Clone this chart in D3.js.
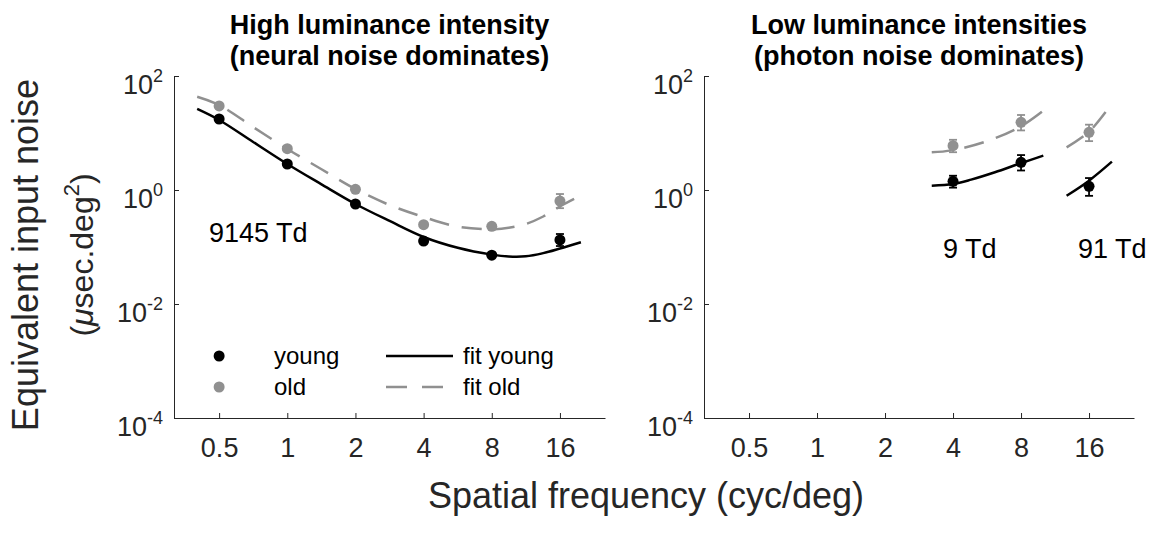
<!DOCTYPE html>
<html>
<head>
<meta charset="utf-8">
<script src="https://cdn.jsdelivr.net/npm/d3@7"></script>
<style>
  body { margin: 0; background: #fff; }
  text { font-family: "Liberation Sans", Arial, Helvetica, sans-serif; }
</style>
</head>
<body>
<svg id="chart" width="1154" height="539"></svg>
<script>
// ---- data ----
var freqs = [0.5, 1, 2, 4, 8, 16];
var xTicks = [0.5, 1, 2, 4, 8, 16];
var yTicks = [1e-4, 1e-2, 1, 1e2];

// high luminance (9145 Td)
var highYoung = [17.6, 2.86, 0.568, 0.127, 0.072, 0.133];
var highYoungLo = [16.6, 2.75, 0.55, 0.116, 0.068, 0.104];
var highYoungHi = [18.7, 2.97, 0.59, 0.139, 0.076, 0.169];
var highOld = [29.8, 5.3, 1.03, 0.246, 0.231, 0.64];
var highOldLo = [28.4, 5.1, 0.99, 0.234, 0.221, 0.48];
var highOldHi = [31.2, 5.5, 1.07, 0.258, 0.241, 0.85];

// fits, high luminance
var fitHighF = [0.40, 0.5, 0.707, 1, 1.41, 2, 2.83, 4, 5.66, 8, 9.5, 11.3, 13.5, 16, 19.8];
var fitHighYoung = [26.4, 16.9, 6.95, 2.86, 1.27, 0.568, 0.286, 0.150, 0.097, 0.0735, 0.068, 0.0685, 0.078, 0.094, 0.121];
var fitHighOld = [43.3, 31.0, 12.7, 5.24, 2.34, 1.04, 0.545, 0.336, 0.227, 0.205, 0.217, 0.253, 0.343, 0.514, 0.801];

// low luminance, 9 Td
var low9F = [4, 8];
var low9Young = [1.42, 3.06];
var low9YoungLo = [1.10, 2.2];
var low9YoungHi = [1.78, 4.1];
var low9Old = [6.0, 15.4];
var low9OldLo = [4.6, 11.1];
var low9OldHi = [7.6, 20.7];
var fit9YoungF = [3.22, 4, 4.81, 6.13, 8.03, 10.04];
var fit9Young = [1.19, 1.27, 1.52, 2.05, 2.98, 4.0];
var fit9OldF = [3.22, 4, 5.72, 8, 10.04];
var fit9Old = [4.58, 5.0, 7.3, 13.1, 24.6];

// low luminance, 91 Td
var low91F = [16];
var low91Young = [1.16];
var low91YoungLo = [0.79];
var low91YoungHi = [1.62];
var low91Old = [10.3];
var low91OldLo = [7.2];
var low91OldHi = [14.0];
var fit91F = [12.73, 16, 20.2];
var fit91Young = [0.794, 1.46, 3.14];
var fit91Old = [5.61, 10.5, 33];

var BLACK = "#000000", GRAY = "#909090", AXIS = "#262626";
var DASH = "20,13";

var svg = d3.select("#chart");
svg.append("rect").attr("width", 1154).attr("height", 539).attr("fill", "#fff");

var plotTop = 76, plotBottom = 418;
var panels = [
    {left: 174, right: 605, title: ["High luminance intensity", "(neural noise dominates)"]},
    {left: 704, right: 1134, title: ["Low luminance intensities", "(photon noise dominates)"]}
];

var y = d3.scaleLog().domain([1e-4, 1e2]).range([plotBottom, plotTop]);

function zip(f, v) {
    return f.map(function (d, i) { return {f: d, v: v[i]}; });
}

panels.forEach(function (p) {
    p.x = d3.scaleLog().domain([0.316, 25.3]).range([p.left, p.right]);
    var g = svg.append("g");
    p.g = g;

    // x axis
    var xa = g.append("g")
        .attr("transform", "translate(0," + plotBottom + ")")
        .call(d3.axisBottom(p.x).tickValues(xTicks).tickSizeInner(-5).tickSizeOuter(0)
            .tickFormat(function (d) { return d; }));
    xa.select(".domain").attr("stroke", AXIS);
    xa.selectAll(".tick line").attr("stroke", AXIS);
    xa.selectAll(".tick text")
        .attr("y", 39).attr("dy", null)
        .attr("fill", AXIS)
        .style("font-size", "27px");

    // y axis
    var ya = g.append("g")
        .attr("transform", "translate(" + p.left + ",0)")
        .call(d3.axisLeft(y).tickValues(yTicks).tickSizeInner(-5).tickSizeOuter(0).tickFormat(""));
    ya.select(".domain").attr("stroke", AXIS);
    ya.selectAll(".tick line").attr("stroke", AXIS);
    ya.selectAll(".tick").each(function (d) {
        var t = d3.select(this).append("text")
            .attr("x", -11).attr("y", 17)
            .attr("text-anchor", "end")
            .attr("fill", AXIS)
            .style("font-size", "27px")
            .text("10");
        t.append("tspan").attr("dy", -12).style("font-size", "18px")
            .text(Math.round(Math.log10(d)));
    });

    // title
    p.title.forEach(function (s, i) {
        g.append("text")
            .attr("x", (p.left + p.right) / 2)
            .attr("y", 34 + i * 31)
            .attr("text-anchor", "middle")
            .style("font-size", "27px")
            .style("font-weight", "bold")
            .text(s);
    });
});

var line = d3.line().curve(d3.curveCatmullRom.alpha(0.5));

function drawFit(p, f, v, color, dashed) {
    p.g.append("path")
        .attr("d", line(zip(f, v).map(function (d) { return [p.x(d.f), y(d.v)]; })))
        .attr("fill", "none")
        .attr("stroke", color)
        .attr("stroke-width", 2.5)
        .attr("stroke-dasharray", dashed ? DASH : null);
}

function drawPoints(p, f, v, lo, hi, color) {
    var data = f.map(function (d, i) { return {f: d, v: v[i], lo: lo[i], hi: hi[i]}; });
    var gg = p.g.append("g");
    gg.selectAll(".err").data(data).enter().append("line")
        .attr("x1", function (d) { return p.x(d.f); })
        .attr("x2", function (d) { return p.x(d.f); })
        .attr("y1", function (d) { return y(d.lo); })
        .attr("y2", function (d) { return y(d.hi); })
        .attr("stroke", color).attr("stroke-width", 1.8);
    [ "lo", "hi" ].forEach(function (k) {
        gg.selectAll(".cap" + k).data(data).enter().append("line")
            .attr("x1", function (d) { return p.x(d.f) - 4; })
            .attr("x2", function (d) { return p.x(d.f) + 4; })
            .attr("y1", function (d) { return y(d[k]); })
            .attr("y2", function (d) { return y(d[k]); })
            .attr("stroke", color).attr("stroke-width", 1.8);
    });
    gg.selectAll("circle").data(data).enter().append("circle")
        .attr("cx", function (d) { return p.x(d.f); })
        .attr("cy", function (d) { return y(d.v); })
        .attr("r", 5.5)
        .attr("fill", color);
}

var L = panels[0], R = panels[1];

// left panel
drawFit(L, fitHighF, fitHighOld, GRAY, true);
drawFit(L, fitHighF, fitHighYoung, BLACK, false);
drawPoints(L, freqs, highOld, highOldLo, highOldHi, GRAY);
drawPoints(L, freqs, highYoung, highYoungLo, highYoungHi, BLACK);

// right panel
drawFit(R, fit9OldF, fit9Old, GRAY, true);
drawFit(R, fit9YoungF, fit9Young, BLACK, false);
drawFit(R, fit91F, fit91Old, GRAY, true);
drawFit(R, fit91F, fit91Young, BLACK, false);
drawPoints(R, low9F, low9Old, low9OldLo, low9OldHi, GRAY);
drawPoints(R, low9F, low9Young, low9YoungLo, low9YoungHi, BLACK);
drawPoints(R, low91F, low91Old, low91OldLo, low91OldHi, GRAY);
drawPoints(R, low91F, low91Young, low91YoungLo, low91YoungHi, BLACK);

// luminance labels
L.g.append("text").attr("x", 209).attr("y", 242).style("font-size", "27px").text("9145 Td");
R.g.append("text").attr("x", 943).attr("y", 258).style("font-size", "27px").text("9 Td");
R.g.append("text").attr("x", 1078).attr("y", 258).style("font-size", "27px").text("91 Td");

// legend
var legend = [
    {label: "young", fit: "fit young", color: BLACK, dashed: false, y: 356},
    {label: "old", fit: "fit old", color: GRAY, dashed: true, y: 387}
];
legend.forEach(function (d) {
    L.g.append("circle").attr("cx", L.x(0.5)).attr("cy", d.y).attr("r", 5.5).attr("fill", d.color);
    L.g.append("text").attr("x", 274).attr("y", d.y + 8).style("font-size", "24px").text(d.label);
    L.g.append("line").attr("x1", 386).attr("x2", 453).attr("y1", d.y).attr("y2", d.y)
        .attr("stroke", d.color).attr("stroke-width", 2.5)
        .attr("stroke-dasharray", d.dashed ? "21,15" : null);
    L.g.append("text").attr("x", 463).attr("y", d.y + 8).style("font-size", "24px").text(d.fit);
});

// axis labels
var yl = svg.append("g").attr("transform", "translate(38,255) rotate(-90)");
yl.append("text").attr("text-anchor", "middle").attr("fill", AXIS)
    .style("font-size", "36px").text("Equivalent input noise");
var yl2 = yl.append("text").attr("y", 55).attr("text-anchor", "middle").attr("fill", AXIS)
    .style("font-size", "32px");
yl2.append("tspan").text("(");
yl2.append("tspan").style("font-style", "italic").text("\u03bc");
yl2.append("tspan").text("sec.deg");
yl2.append("tspan").attr("dy", -14).style("font-size", "22px").text("2");
yl2.append("tspan").attr("dy", 14).text(")");

svg.append("text").attr("x", 646).attr("y", 508).attr("text-anchor", "middle").attr("fill", AXIS)
    .style("font-size", "36px").text("Spatial frequency (cyc/deg)");
</script>
</body>
</html>
